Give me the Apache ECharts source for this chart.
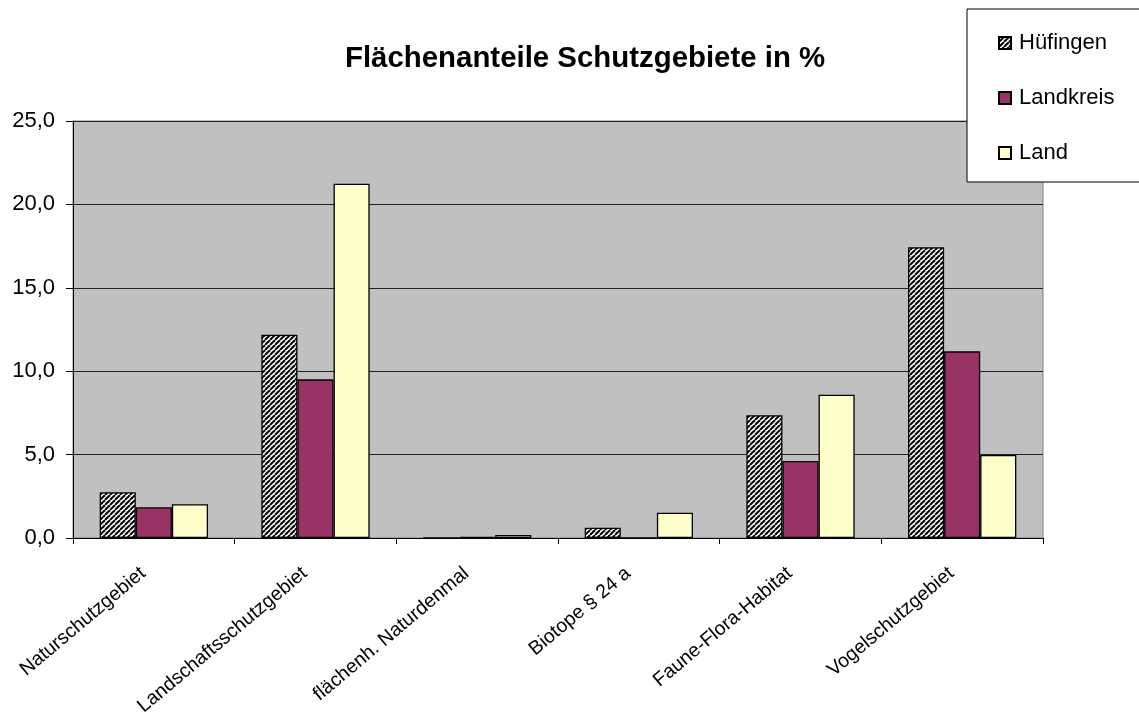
<!DOCTYPE html>
<html>
<head>
    <meta charset="utf-8">
    <title>Flächenanteile Schutzgebiete</title>
    <script src="https://cdn.jsdelivr.net/npm/echarts@6/dist/echarts.min.js"></script>
    <style>
        html, body { margin: 0; padding: 0; background: #fff; }
        #chart { width: 1139px; height: 716px; }
    </style>
</head>
<body>
<div id="chart"></div>
<script>
    // Daten
    var categories = ['Naturschutzgebiet', 'Landschaftsschutzgebiet', 'flächenh. Naturdenmal',
        'Biotope § 24 a', 'Faune-Flora-Habitat', 'Vogelschutzgebiet'];
    var seriesNames = ['Hüfingen', 'Landkreis', 'Land'];
    var huefingen = [2.74, 12.19, 0.02, 0.62, 7.36, 17.43];
    var landkreis = [1.84, 9.51, 0.06, 0, 4.62, 11.19];
    var land = [2.02, 21.24, 0.18, 1.52, 8.59, 4.98];
    var yTicks = [0, 5, 10, 15, 20, 25];

    // Schraffur für Hüfingen
    function makeHatch() {
        var s = 5;
        var c = document.createElement('canvas');
        c.width = s; c.height = s;
        var ctx = c.getContext('2d');
        ctx.fillStyle = '#fff';
        ctx.fillRect(0, 0, s, s);
        ctx.strokeStyle = '#000';
        ctx.lineWidth = 2;
        [-s, 0, s].forEach(function (k) {
            ctx.beginPath();
            ctx.moveTo(k, s);
            ctx.lineTo(k + s, 0);
            ctx.stroke();
        });
        return c;
    }

    var font = '"Liberation Sans", Arial, sans-serif';
    var $echart = echarts.init(document.getElementById('chart'), null, { renderer: 'canvas' });

    var barStyle = function (color) {
        return { color: color, borderColor: '#000', borderWidth: 1.3 };
    };

    $echart.setOption({
        animation: false,
        backgroundColor: '#fff',
        title: {
            text: 'Flächenanteile Schutzgebiete in %',
            left: 340,
            top: 39,
            textStyle: { fontFamily: font, fontSize: 29.4, fontWeight: 'bold', color: '#000' }
        },
        legend: {
            data: seriesNames,
            orient: 'vertical',
            icon: 'rect',
            left: 967,
            top: 9,
            padding: [23, 40, 18, 31],
            itemGap: 33,
            itemWidth: 12,
            itemHeight: 12,
            borderColor: '#000',
            borderWidth: 1,
            backgroundColor: '#fff',
            textStyle: { fontFamily: font, fontSize: 22, color: '#000', lineHeight: 22, padding: [0, 0, 0, 3] }
        },
        grid: {
            left: 73,
            right: 96,
            top: 121,
            bottom: 178,
            containLabel: false,
            outerBoundsMode: 'none',
            show: true,
            backgroundColor: '#c0c0c0',
            borderColor: '#808080',
            borderWidth: 1
        },
        xAxis: {
            type: 'category',
            data: categories,
            axisLine: { lineStyle: { color: '#000', width: 1 } },
            axisTick: { show: true, length: 6, lineStyle: { color: '#000' } },
            axisLabel: {
                interval: 0,
                rotate: 40,
                margin: 24,
                padding: [0, 14, 0, 0],
                fontFamily: font,
                fontSize: 19.5,
                color: '#000'
            }
        },
        yAxis: {
            type: 'value',
            min: yTicks[0],
            max: yTicks[yTicks.length - 1],
            interval: 5,
            axisLine: { show: true, lineStyle: { color: '#000', width: 1 } },
            axisTick: { show: true, length: 7, lineStyle: { color: '#000' } },
            splitLine: { show: true, lineStyle: { color: '#222', width: 1 } },
            axisLabel: {
                margin: 18,
                fontFamily: font,
                fontSize: 22,
                color: '#000',
                formatter: function (v) { return v.toFixed(1).replace('.', ','); }
            }
        },
        series: [
            {
                name: seriesNames[0], type: 'bar', data: huefingen,
                barGap: '0%', barCategoryGap: '33%',
                itemStyle: { color: { image: makeHatch(), repeat: 'repeat' }, borderColor: '#000', borderWidth: 1.3 }
            },
            {
                name: seriesNames[1], type: 'bar', data: landkreis,
                barGap: '0%', barCategoryGap: '33%',
                itemStyle: barStyle('#993366')
            },
            {
                name: seriesNames[2], type: 'bar', data: land,
                barGap: '0%', barCategoryGap: '33%',
                itemStyle: barStyle('#ffffcc')
            }
        ]
    }, true);
</script>
</body>
</html>
